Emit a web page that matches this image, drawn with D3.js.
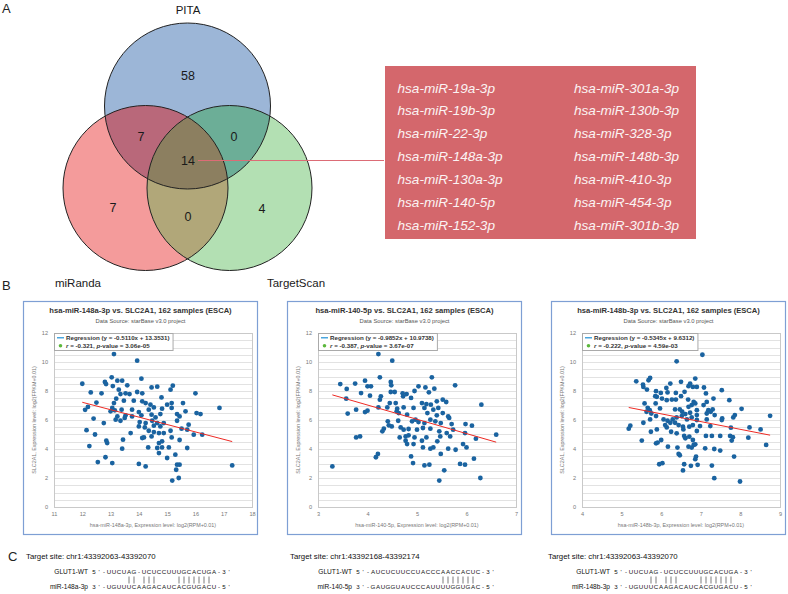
<!DOCTYPE html>
<html>
<head>
<meta charset="utf-8">
<script src="https://cdn.jsdelivr.net/npm/d3@7/dist/d3.min.js"></script>
<style>
html,body{margin:0;padding:0;background:#fff;}
svg{display:block;}
</style>
</head>
<body>
<svg id="fig" width="788" height="594" xmlns="http://www.w3.org/2000/svg"></svg>
<script>
// ---------------- DATA ----------------
const vennSetNames = ["PITA", "miRanda", "TargetScan"];
const vennRegionKeys = ["PITA", "PITA&miRanda", "PITA&TargetScan", "all", "miRanda", "miRanda&TargetScan", "TargetScan"];
const vennRegionCounts = [58, 7, 0, 14, 7, 0, 4];

const sharedMirnasLeft = ["hsa-miR-19a-3p", "hsa-miR-19b-3p", "hsa-miR-22-3p", "hsa-miR-148a-3p", "hsa-miR-130a-3p", "hsa-miR-140-5p", "hsa-miR-152-3p"];
const sharedMirnasRight = ["hsa-miR-301a-3p", "hsa-miR-130b-3p", "hsa-miR-328-3p", "hsa-miR-148b-3p", "hsa-miR-410-3p", "hsa-miR-454-3p", "hsa-miR-301b-3p"];

const panelMirnas = ["hsa-miR-148a-3p", "hsa-miR-140-5p", "hsa-miR-148b-3p"];
const panelXDomains = [[11, 18], [3, 7], [4, 9]];
const panelXTicks = [[11, 12, 13, 14, 15, 16, 17, 18], [3, 4, 5, 6, 7], [4, 5, 6, 7, 8, 9]];
const yTicks = [0, 2, 4, 6, 8, 10, 12];
const regSlopes = [-0.5110, -0.9852, -0.5345];
const regIntercepts = [13.3531, 10.9738, 9.6312];
const corrR = ["-0.321", "-0.387", "-0.222"];
const corrP = ["3.06e-05", "3.67e-07", "4.59e-03"];

const pts148a = [
[13.12,10.55],[13.94,10.09],[13.04,8.94],[12.8,8.62],[13.24,8.71],[13.41,8.71],[12.84,8.48],[13.08,8.34],[13.59,8.39],[14.09,8.85],[14.45,8.25],[14.65,8.3],[15.2,8.37],[12.68,7.84],[13.29,8.09],[13.35,7.79],[13.53,7.84],[13.67,7.79],[13.94,7.93],[14.12,7.84],[16.0,7.84],[15.12,8.09],[13.2,7.47],[13.47,7.33],[13.12,7.17],[13.82,7.33],[14.12,7.29],[14.24,7.17],[14.41,7.06],[14.8,7.56],[15.0,7.06],[15.16,7.17],[15.56,7.17],[16.85,6.83],[13.06,6.83],[13.0,6.6],[13.15,6.67],[13.39,6.71],[13.76,6.71],[14.0,6.55],[14.35,6.71],[14.53,6.87],[14.82,6.78],[15.16,6.83],[15.65,6.6],[16.04,6.48],[16.18,6.41],[13.24,6.25],[13.53,6.32],[13.76,6.25],[14.09,6.32],[14.45,6.37],[14.59,6.18],[14.76,6.41],[15.35,6.41],[15.44,6.25],[13.18,6.02],[13.35,5.95],[13.5,6.14],[14.03,5.86],[14.24,5.79],[14.47,5.95],[14.65,5.79],[14.88,5.79],[15.35,5.95],[12.76,5.79],[14.0,5.56],[14.21,5.49],[14.53,5.61],[14.76,5.56],[15.76,5.68],[15.51,5.4],[15.71,5.33],[15.94,4.99],[16.24,4.99],[13.71,5.1],[14.35,5.26],[14.53,5.17],[14.71,5.1],[14.88,5.1],[15.12,5.26],[14.18,4.8],[14.45,4.87],[14.12,4.76],[13.44,4.64],[12.85,4.57],[15.16,4.8],[15.44,4.62],[14.82,4.53],[14.71,4.41],[12.88,4.41],[14.33,4.11],[14.65,4.07],[14.82,4.11],[15.06,4.11],[15.71,4.07],[13.41,4.02],[14.71,3.72],[15.29,3.61],[12.82,3.43],[15.0,3.38],[13.06,3.03],[14.0,2.97],[14.24,2.8],[15.35,2.92],[15.44,2.92],[15.32,2.57],[15.41,2.0],[15.18,1.82],[17.3,2.87],
[12.0,8.5],[12.1,6.7],[12.15,5.3],[12.25,4.2],[12.3,7.9],[12.4,6.1],[12.45,5.0],[12.5,7.2],[12.55,3.1],[12.2,6.9]
];
const pts140 = [
[4.22,10.55],[4.5,10.09],[4.25,8.94],[5.3,8.94],[3.45,8.48],[3.75,8.51],[3.95,8.71],[4.47,8.62],[4.48,8.39],[5.03,8.32],[5.17,8.25],[5.77,8.39],[4.0,8.32],[4.07,8.32],[3.58,8.14],[3.87,7.86],[4.05,7.68],[4.27,7.63],[4.47,7.93],[4.55,7.93],[4.71,7.84],[4.79,7.79],[4.95,8.0],[5.24,7.91],[5.35,8.16],[3.57,7.47],[4.25,7.4],[4.72,7.63],[4.88,7.52],[4.45,7.17],[4.57,7.17],[5.1,7.17],[5.19,7.1],[5.28,7.06],[5.4,7.29],[5.52,7.4],[5.59,7.24],[6.3,7.06],[4.22,6.87],[4.4,6.87],[4.6,6.78],[4.73,6.87],[4.93,6.83],[5.15,6.83],[5.33,6.71],[5.43,6.83],[3.77,6.71],[3.95,6.55],[4.0,6.64],[3.6,6.44],[4.59,6.6],[4.63,6.48],[4.8,6.37],[5.21,6.48],[5.4,6.32],[5.52,6.48],[5.63,6.25],[4.62,5.95],[4.9,5.91],[4.97,6.02],[5.03,5.86],[5.15,5.79],[5.27,6.02],[5.37,5.91],[5.48,5.79],[5.65,6.14],[5.7,5.72],[5.73,5.33],[5.98,5.72],[6.11,5.61],[4.41,5.91],[4.43,5.63],[4.33,5.4],[4.3,5.22],[4.49,5.56],[4.67,5.49],[4.73,5.33],[4.83,5.38],[5.0,5.33],[5.12,5.45],[5.27,5.4],[5.45,5.22],[5.6,5.1],[5.97,5.1],[3.77,4.8],[3.85,4.87],[4.65,4.8],[4.77,4.87],[4.83,4.94],[4.95,4.8],[5.19,4.8],[5.47,4.87],[5.67,4.87],[6.19,4.71],[4.77,4.57],[4.8,4.34],[4.93,4.34],[5.1,4.57],[5.41,4.53],[5.93,4.34],[5.12,4.11],[5.27,4.02],[5.33,4.11],[5.63,4.02],[5.78,3.95],[6.0,4.11],[5.48,3.66],[4.21,3.66],[4.17,3.43],[4.88,3.49],[6.15,3.33],[4.92,3.03],[5.15,2.87],[5.25,2.92],[5.87,2.97],[5.97,2.92],[5.55,2.53],[6.28,2.0],[5.45,1.82],[6.6,4.99],[3.29,2.8]
];
const pts148b = [
[7.04,10.5],[6.39,10.05],[5.37,8.67],[5.54,8.44],[5.55,8.28],[5.68,8.74],[5.72,8.9],[5.64,8.1],[5.87,7.99],[5.85,7.64],[5.89,7.6],[5.99,7.87],[6.13,8.21],[6.16,7.9],[6.23,8.51],[6.02,7.48],[6.14,7.37],[6.27,7.41],[6.37,7.87],[6.37,7.41],[6.5,8.63],[6.5,7.64],[6.59,7.94],[6.69,8.33],[6.73,8.51],[6.8,8.28],[6.86,8.86],[6.9,8.28],[7.08,8.24],[7.13,7.83],[6.68,7.41],[6.82,7.25],[6.86,7.14],[6.77,7.03],[6.69,6.91],[7.07,7.03],[7.15,7.25],[7.32,7.48],[7.53,8.06],[7.72,7.37],[8.03,6.77],[5.58,7.14],[5.66,6.84],[5.71,6.68],[5.63,6.57],[5.75,6.45],[5.86,7.14],[5.97,6.8],[6.35,6.73],[6.47,6.73],[6.53,6.57],[6.61,6.41],[6.73,6.5],[6.9,6.68],[7.19,6.68],[7.25,6.57],[7.3,6.73],[7.15,6.45],[7.35,6.34],[5.87,6.27],[5.72,6.04],[6.06,6.04],[6.16,5.95],[6.29,6.04],[6.39,6.18],[6.52,6.27],[6.65,6.04],[6.77,6.18],[6.9,6.34],[6.23,5.81],[6.1,5.65],[6.35,5.81],[6.44,5.65],[6.55,5.54],[6.71,5.54],[6.9,6.0],[7.15,6.04],[7.54,6.11],[7.53,6.0],[7.82,6.18],[7.86,6.34],[8.75,6.29],[5.55,5.81],[5.22,5.61],[5.18,5.4],[5.89,5.35],[5.74,5.19],[6.14,5.49],[6.25,5.19],[6.39,5.08],[6.56,5.35],[6.8,5.65],[6.9,5.24],[6.98,5.58],[7.24,5.58],[7.76,5.47],[8.23,5.49],[8.51,5.35],[6.58,4.9],[6.61,4.74],[6.71,4.85],[6.8,4.62],[7.13,4.9],[7.28,4.9],[7.49,4.9],[7.74,4.9],[7.81,4.81],[7.78,4.58],[8.2,4.78],[5.51,4.58],[5.87,4.39],[5.91,4.44],[6.0,4.62],[6.17,4.16],[6.41,4.1],[6.69,4.16],[6.77,4.1],[6.82,4.28],[6.86,4.32],[7.11,4.05],[7.34,4.0],[7.49,3.89],[8.65,4.28],[6.44,3.66],[6.47,3.57],[6.88,3.48],[6.86,3.3],[7.84,3.48],[5.95,2.95],[6.03,3.02],[6.58,2.95],[6.75,2.84],[6.92,2.91],[7.28,2.86],[6.55,2.52],[7.34,1.99],[7.99,1.76]
];

const targetSites = ["chr1:43392063-43392070", "chr1:43392168-43392174", "chr1:43392063-43392070"];
const mrnaLabels = ["GLUT1-WT", "GLUT1-WT", "GLUT1-WT"];
const mrnaSeqs = ["5'-UUCUAG-UCUCCUUUGCACUGA-3'", "5'-AUCUCUUCCUACCCAACCACUC-3'", "5'-UUCUAG-UCUCCUUUGCACUGA-3'"];
const mirLabels = ["miR-148a-3p", "miR-140-5p", "miR-148b-3p"];
const mirSeqs = ["3'-UGUUUCAAGACAUCACGUGACU-5'", "3'-GAUGGUAUCCCAUUUUGGUGAC-5'", "3'-UGUUUCAAGACAUCACGUGACU-5'"];
const pairPositions = [[7, 8, 10, 11, 12, 17, 18, 19, 20, 21, 22, 23], [17, 18, 19, 20, 21, 22, 23], [7, 8, 10, 11, 12, 17, 18, 19, 20, 21, 22, 23]];

// ---------------- DRAW ----------------
const FONT = "'Liberation Sans', Arial, Helvetica, sans-serif";
const svg = d3.select("#fig").style("font-family", FONT);

// panel letters
[["A", 2, 13], ["B", 2, 290], ["C", 8, 561]].forEach(([t, x, y]) => {
  svg.append("text").attr("x", x).attr("y", y).attr("font-size", 13).attr("fill", "#222").text(t);
});

// ---- Venn ----
const vennCircles = [
  {cx: 187.5, cy: 106, r: 83, fill: "#9cb6d7"},
  {cx: 145.5, cy: 188, r: 82.5, fill: "#f49b9b"},
  {cx: 229.5, cy: 188, r: 82.5, fill: "#b3e0b3"}
];
const defs = svg.append("defs");
vennCircles.forEach((c, i) => {
  defs.append("clipPath").attr("id", "vc" + i)
    .append("circle").attr("cx", c.cx).attr("cy", c.cy).attr("r", c.r);
});
const vg = svg.append("g");
vg.selectAll("circle.base").data(vennCircles).join("circle").attr("class", "base")
  .attr("cx", d => d.cx).attr("cy", d => d.cy).attr("r", d => d.r).attr("fill", d => d.fill);
function interCircle(parent, circ, clipId, fill) {
  parent.append("circle").attr("cx", circ.cx).attr("cy", circ.cy).attr("r", circ.r)
    .attr("fill", fill).attr("clip-path", `url(#${clipId})`);
}
interCircle(vg, vennCircles[1], "vc0", "#b9687a");
interCircle(vg, vennCircles[2], "vc0", "#6cae97");
interCircle(vg, vennCircles[2], "vc1", "#b1a779");
const triG = vg.append("g").attr("clip-path", "url(#vc0)");
interCircle(triG, vennCircles[2], "vc1", "#8c7f60");
vg.selectAll("circle.edge").data(vennCircles).join("circle").attr("class", "edge")
  .attr("cx", d => d.cx).attr("cy", d => d.cy).attr("r", d => d.r)
  .attr("fill", "none").attr("stroke", "#222").attr("stroke-width", 1);

const vennNumPos = [[188, 75], [141, 136], [234, 136], [188, 160], [113, 207], [188, 216], [262, 208]];
vg.selectAll("text.num").data(vennRegionCounts).join("text").attr("class", "num")
  .attr("x", (d, i) => vennNumPos[i][0]).attr("y", (d, i) => vennNumPos[i][1])
  .attr("dy", "0.36em").attr("text-anchor", "middle").attr("font-size", 12.5).attr("fill", "#1a1a1a")
  .text(d => d);
const vennLabelPos = [[188, 10], [78, 283], [296, 283]];
vg.selectAll("text.lab").data(vennSetNames).join("text").attr("class", "lab")
  .attr("x", (d, i) => vennLabelPos[i][0]).attr("y", (d, i) => vennLabelPos[i][1])
  .attr("dy", "0.36em").attr("text-anchor", "middle").attr("font-size", 11.5).attr("fill", "#1a1a1a")
  .text(d => d);

// connector line
svg.append("line").attr("x1", 198).attr("x2", 384).attr("y1", 160.5).attr("y2", 160.5)
  .attr("stroke", "#dc6c76").attr("stroke-width", 1);

// red box with shared miRNAs
svg.append("rect").attr("x", 385).attr("y", 66).attr("width", 311).attr("height", 173).attr("fill", "#d4676c");
const rowY = d3.scaleLinear().domain([0, 6]).range([87.7, 225]);
[sharedMirnasLeft, sharedMirnasRight].forEach((col, ci) => {
  svg.append("g").selectAll("text").data(col).join("text")
    .attr("x", ci === 0 ? 397.5 : 574).attr("y", (d, i) => rowY(i)).attr("dy", "0.36em")
    .attr("font-size", 13.6).attr("font-style", "italic").attr("fill", "#fbf3f3").text(d => d);
});

// ---- Scatter panels ----
const PANEL_LEFT = [23, 287, 551], PANEL_TOP = 301, PANEL_W = 235, PANEL_H = 234;
const allPts = [pts148a, pts140, pts148b];

allPts.forEach((pts, i) => {
  const L = PANEL_LEFT[i], T = PANEL_TOP;
  const g = svg.append("g");
  g.append("rect").attr("x", L + 0.5).attr("y", T + 0.5).attr("width", PANEL_W - 1).attr("height", PANEL_H - 1)
    .attr("fill", "#fff").attr("stroke", "#7e9fd4").attr("stroke-width", 1.2);
  const x = d3.scaleLinear().domain(panelXDomains[i]).range([L + 31, L + 229]);
  const y = d3.scaleLinear().domain([0, 12]).range([T + 206, T + 32]);
  const [x0, x1] = x.range();

  // grid lines
  g.append("g").selectAll("line").data(d3.range(0.5, 12, 0.5)).join("line")
    .attr("x1", x0).attr("x2", x1)
    .attr("y1", d => Math.round(y(d)) + 0.5).attr("y2", d => Math.round(y(d)) + 0.5)
    .attr("stroke", "#e2e2e2").attr("stroke-width", 1);
  g.append("rect").attr("x", x0 + 0.5).attr("y", y(12) + 0.5).attr("width", x1 - x0).attr("height", y(0) - y(12))
    .attr("fill", "none").attr("stroke", "#c9c9c9");

  // axes
  const ya = g.append("g").attr("transform", `translate(${x0},0)`)
    .call(d3.axisLeft(y).tickValues(yTicks).tickSize(0).tickPadding(6));
  const xa = g.append("g").attr("transform", `translate(0,${y(0)})`)
    .call(d3.axisBottom(x).tickValues(panelXTicks[i]).tickSize(0).tickPadding(5).tickFormat(d3.format("d")));
  [ya, xa].forEach(a => {
    a.select(".domain").remove();
    a.selectAll("text").attr("font-size", 5.6).attr("fill", "#777").attr("font-family", FONT);
  });

  // titles
  g.append("text").attr("x", L + PANEL_W / 2).attr("y", T + 12).attr("text-anchor", "middle")
    .attr("font-size", 7.6).attr("font-weight", "bold").attr("fill", "#333")
    .text(`${panelMirnas[i]} vs. SLC2A1, 162 samples (ESCA)`);
  g.append("text").attr("x", L + PANEL_W / 2).attr("y", T + 22).attr("text-anchor", "middle")
    .attr("font-size", 5.8).attr("fill", "#555").text("Data Source: starBase v3.0 project");
  g.append("text").attr("transform", `translate(${L + 13},${(y(0) + y(12)) / 2}) rotate(-90)`)
    .attr("text-anchor", "middle").attr("font-size", 5.4).attr("fill", "#777")
    .text("SLC2A1, Expression level: log2(FPKM+0.01)");
  g.append("text").attr("x", (x0 + x1) / 2).attr("y", T + 226).attr("text-anchor", "middle")
    .attr("font-size", 5.4).attr("fill", "#777")
    .text(`${panelMirnas[i]}, Expression level: log2(RPM+0.01)`);

  // points
  g.append("g").selectAll("circle").data(pts).join("circle")
    .attr("cx", d => x(d[0])).attr("cy", d => y(d[1])).attr("r", 2.4).attr("fill", "#1a63a0");

  // regression line
  const ext = d3.extent(pts, d => d[0]);
  const reg = v => regSlopes[i] * v + regIntercepts[i];
  g.append("line").attr("x1", x(ext[0])).attr("y1", y(reg(ext[0])))
    .attr("x2", x(ext[1])).attr("y2", y(reg(ext[1])))
    .attr("stroke", "#ee2a24").attr("stroke-width", 1);

  // legend
  const lg = g.append("g");
  const ly = y(12);
  const t1 = lg.append("text").attr("x", x0 + 12).attr("y", ly + 6.8).attr("font-size", 6.2).attr("font-weight", "bold").attr("fill", "#333")
    .text(`Regression (y = ${regSlopes[i].toFixed(4)}x + ${regIntercepts[i].toFixed(4)})`);
  const t2 = lg.append("text").attr("x", x0 + 12).attr("y", ly + 14.8).attr("font-size", 6.2).attr("font-weight", "bold").attr("fill", "#333");
  t2.append("tspan").attr("font-style", "italic").text("r");
  t2.append("tspan").text(` = ${corrR[i]}, `);
  t2.append("tspan").attr("font-style", "italic").text("p");
  t2.append("tspan").text(`-value = ${corrP[i]}`);
  const lw = Math.max(t1.node().getComputedTextLength(), t2.node().getComputedTextLength()) + 15;
  lg.insert("rect", ":first-child").attr("x", x0 + 0.5).attr("y", ly + 0.5).attr("width", lw).attr("height", 17)
    .attr("fill", "#fff").attr("stroke", "#aaa");
  lg.append("line").attr("x1", x0 + 3).attr("x2", x0 + 10).attr("y1", ly + 4.8).attr("y2", ly + 4.8)
    .attr("stroke", "#1e90d6").attr("stroke-width", 1.2);
  lg.append("circle").attr("cx", x0 + 6.5).attr("cy", ly + 12.8).attr("r", 1.8).attr("fill", "#5cb83c");
});

// ---- Target site alignments ----
const BLOCK_LEFT = [26, 290, 548];
const CHAR_STEP = 5.0;
BLOCK_LEFT.forEach((bx, i) => {
  const g = svg.append("g").attr("fill", "#111");
  g.append("text").attr("x", bx).attr("y", 559).attr("font-size", 7.8).text(`Target site: ${targetSites[i]}`);
  const labEnd = bx + 62, seqStart = bx + 68;
  g.append("text").attr("x", labEnd).attr("y", 574).attr("text-anchor", "end").attr("font-size", 6.6).text(mrnaLabels[i]);
  g.append("text").attr("x", labEnd).attr("y", 589).attr("text-anchor", "end").attr("font-size", 6.6).text(mirLabels[i]);
  const cx = d3.scaleLinear().domain([0, 1]).range([seqStart, seqStart + CHAR_STEP]);
  g.append("g").selectAll("text").data(mrnaSeqs[i].split("")).join("text")
    .attr("x", (d, k) => cx(k)).attr("y", 574).attr("text-anchor", "middle").attr("font-size", 6.2).text(d => d);
  g.append("g").selectAll("text").data(mirSeqs[i].split("")).join("text")
    .attr("x", (d, k) => cx(k)).attr("y", 589).attr("text-anchor", "middle").attr("font-size", 6.2).text(d => d);
  g.append("g").selectAll("line").data(pairPositions[i]).join("line")
    .attr("x1", d => cx(d)).attr("x2", d => cx(d)).attr("y1", 576.5).attr("y2", 583.5)
    .attr("stroke", "#222").attr("stroke-width", 0.6);
});
</script>
</body>
</html>
